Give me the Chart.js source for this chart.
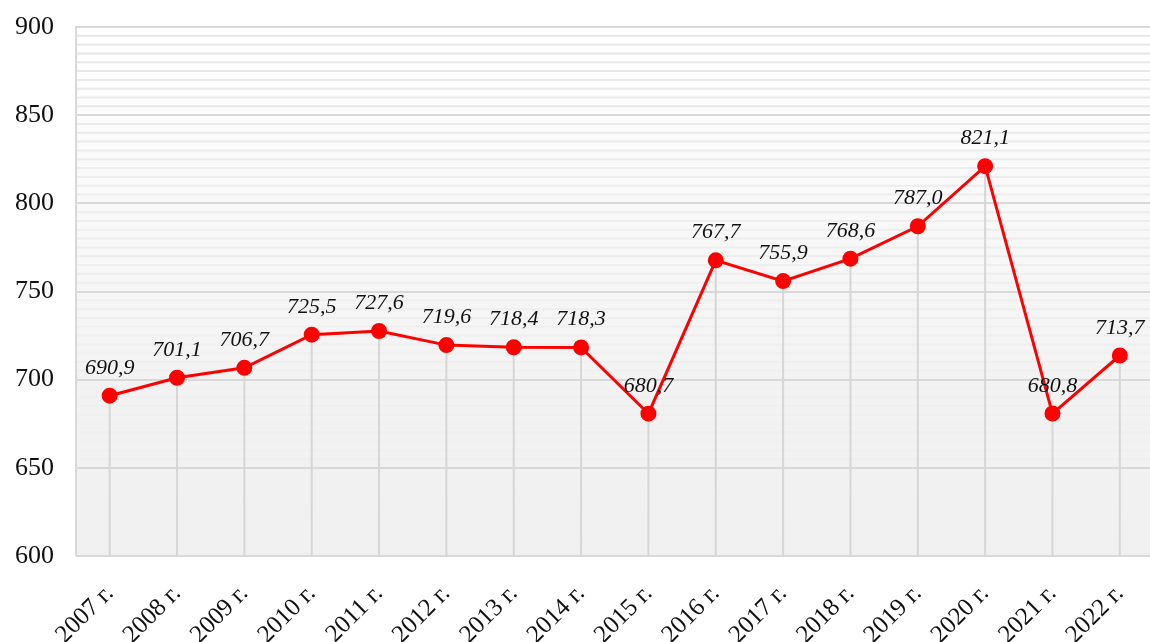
<!DOCTYPE html>
<html>
<head>
<meta charset="utf-8">
<script src="https://cdn.jsdelivr.net/npm/chart.js@4/dist/chart.umd.min.js"></script>
<style>
  html, body { margin: 0; padding: 0; background: #ffffff; overflow: hidden; }
  /* plot area runs past the right edge of the window, as in the original */
  #wrap { width: 1163px; height: 642px; position: relative; }
  canvas { display: block; }
</style>
</head>
<body>
<div id="wrap"><canvas id="lineChart"></canvas></div>
<script>
var years = ['2007 г.', '2008 г.', '2009 г.', '2010 г.', '2011 г.', '2012 г.', '2013 г.', '2014 г.',
    '2015 г.', '2016 г.', '2017 г.', '2018 г.', '2019 г.', '2020 г.', '2021 г.', '2022 г.'];
var values = [690.9, 701.1, 706.7, 725.5, 727.6, 719.6, 718.4, 718.3,
    680.7, 767.7, 755.9, 768.6, 787.0, 821.1, 680.8, 713.7];
var yMin = 600;
var yMax = 900;
var yStep = 50;
var minorStep = 5;

// plot background: light gradient with faint horizontal stripes
var backgroundPlugin = {
    id: 'plotBackground',
    beforeDraw: function (chart) {
        var ctx = chart.ctx;
        var area = chart.chartArea;
        var y = chart.scales.y;
        ctx.save();
        var grad = ctx.createLinearGradient(0, area.top, 0, area.bottom);
        grad.addColorStop(0, '#ffffff');
        grad.addColorStop(0.7, '#f2f2f2');
        grad.addColorStop(1, '#f0f0f0');
        ctx.fillStyle = grad;
        ctx.fillRect(area.left, area.top, area.right - area.left, area.bottom - area.top);
        ctx.lineWidth = 2;
        for (var v = yMin + minorStep; v < yMax; v += minorStep) {
            if (v % yStep === 0) continue;
            var py = y.getPixelForValue(v);
            var t = (py - area.top) / (area.bottom - area.top);
            var a = Math.max(0, 1 - t * 1.15);
            ctx.strokeStyle = 'rgba(230,230,230,' + a.toFixed(3) + ')';
            ctx.beginPath();
            ctx.moveTo(area.left, py);
            ctx.lineTo(area.right, py);
            ctx.stroke();
        }
        ctx.restore();
    },
    afterDraw: function (chart) {
        var ctx = chart.ctx;
        var area = chart.chartArea;
        ctx.save();
        ctx.strokeStyle = '#d9d9d9';
        ctx.lineWidth = 2;
        ctx.beginPath();
        ctx.moveTo(area.left, area.bottom);
        ctx.lineTo(area.left, area.top);
        ctx.lineTo(area.right, area.top);
        ctx.stroke();
        ctx.restore();
    }
};

// vertical drop lines from each point to the axis
var dropLinePlugin = {
    id: 'dropLines',
    beforeDatasetsDraw: function (chart) {
        var ctx = chart.ctx;
        var area = chart.chartArea;
        var meta = chart.getDatasetMeta(0);
        ctx.save();
        ctx.strokeStyle = '#d6d6d6';
        ctx.lineWidth = 2;
        meta.data.forEach(function (pt) {
            ctx.beginPath();
            ctx.moveTo(pt.x, pt.y);
            ctx.lineTo(pt.x, area.bottom);
            ctx.stroke();
        });
        ctx.restore();
    }
};

// value labels above points
var valueLabelPlugin = {
    id: 'valueLabels',
    afterDatasetsDraw: function (chart) {
        var ctx = chart.ctx;
        var meta = chart.getDatasetMeta(0);
        ctx.save();
        ctx.font = 'italic 22px "Liberation Serif"';
        ctx.fillStyle = '#111111';
        ctx.textAlign = 'center';
        ctx.textBaseline = 'alphabetic';
        meta.data.forEach(function (pt, i) {
            var txt = values[i].toFixed(1).replace('.', ',');
            ctx.fillText(txt, pt.x, pt.y - 22);
        });
        ctx.restore();
    }
};

const lineData = {
    labels: years,
    datasets: [{
        label: 'values',
        data: values,
        borderColor: '#ff0000',
        backgroundColor: '#ff0000',
        borderWidth: 3,
        pointRadius: 6.5,
        pointHoverRadius: 6.5,
        pointBackgroundColor: '#ff0000',
        pointBorderColor: '#ff0000',
        tension: 0
    }]
};

const lineConfig = {
    type: 'line',
    data: lineData,
    plugins: [backgroundPlugin, dropLinePlugin, valueLabelPlugin],
    options: {
        responsive: true,
        maintainAspectRatio: false,
        animation: false,
        layout: {
            padding: { top: 27, right: 0, left: 0, bottom: 0 }
        },
        plugins: {
            legend: { display: false },
            tooltip: { enabled: false }
        },
        scales: {
            x: {
                offset: true,
                grid: { display: false },
                border: { display: false },
                ticks: {
                    minRotation: 45,
                    maxRotation: 45,
                    autoSkip: false,
                    padding: 15,
                    color: '#111111',
                    font: { family: '"Liberation Serif"', size: 25 }
                },
                afterFit: function (scale) {
                    scale.height = 86;
                    scale.paddingLeft = 0;
                    scale.paddingRight = 0;
                }
            },
            y: {
                min: yMin,
                max: yMax,
                grid: {
                    color: '#d9d9d9',
                    lineWidth: 2,
                    drawTicks: false
                },
                border: { display: false },
                ticks: {
                    stepSize: yStep,
                    padding: 22,
                    color: '#111111',
                    font: { family: '"Liberation Serif"', size: 26 }
                },
                afterFit: function (scale) {
                    scale.width = 76;
                    scale.paddingTop = 0;
                    scale.paddingBottom = 0;
                }
            }
        }
    }
};

document.addEventListener("DOMContentLoaded", function () {
    new Chart(document.getElementById('lineChart'), lineConfig);
});
</script>
</body>
</html>
